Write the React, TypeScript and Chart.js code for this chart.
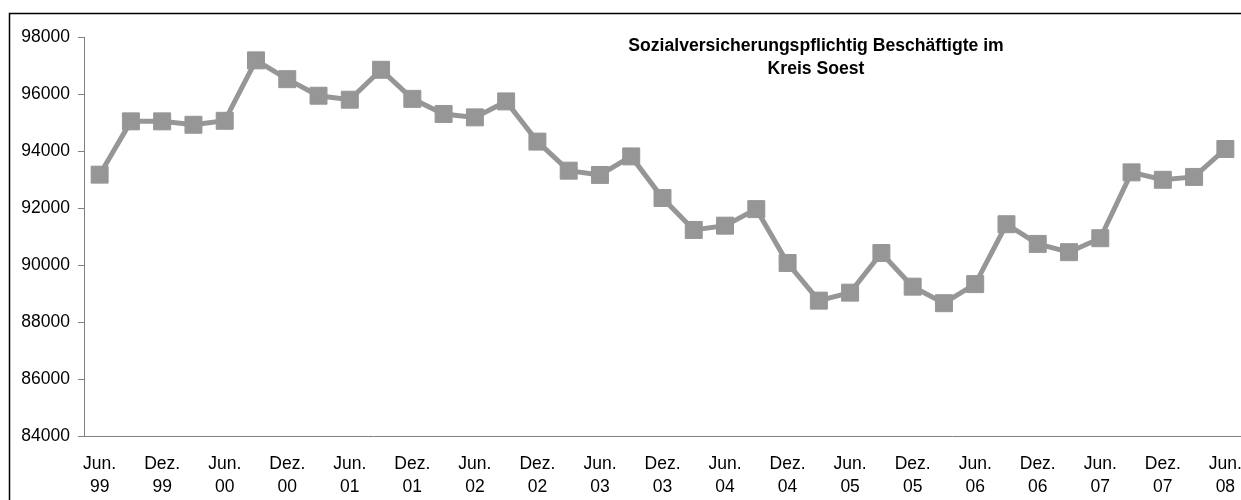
import React, { useEffect, useRef } from 'react';
import { Chart, registerables } from 'chart.js';

Chart.register(...registerables);

const quarters: string[] = [
  'Jun. 99', 'Sep. 99', 'Dez. 99', 'Mär. 00',
  'Jun. 00', 'Sep. 00', 'Dez. 00', 'Mär. 01',
  'Jun. 01', 'Sep. 01', 'Dez. 01', 'Mär. 02',
  'Jun. 02', 'Sep. 02', 'Dez. 02', 'Mär. 03',
  'Jun. 03', 'Sep. 03', 'Dez. 03', 'Mär. 04',
  'Jun. 04', 'Sep. 04', 'Dez. 04', 'Mär. 05',
  'Jun. 05', 'Sep. 05', 'Dez. 05', 'Mär. 06',
  'Jun. 06', 'Sep. 06', 'Dez. 06', 'Mär. 07',
  'Jun. 07', 'Sep. 07', 'Dez. 07', 'Mär. 08',
  'Jun. 08',
];

const employees: number[] = [
  93170, 95040, 95040, 94920,
  95060, 97180, 96520, 95940,
  95800, 96850, 95830, 95300,
  95180, 95740, 94330, 93310,
  93160, 93810, 92350, 91230,
  91380, 91960, 90070, 88750,
  89030, 90420, 89240, 88660,
  89330, 91430, 90740, 90450,
  90940, 93250, 92990, 93090,
  94070,
];

const yMin = 84000;
const yMax = 98000;
const yStep = 2000;

const titleLines: string[] = ['Sozialversicherungspflichtig Beschäftigte im', 'Kreis Soest'];

const FONT = '"Liberation Sans", Arial, sans-serif';

export default function App() {
  const ref = useRef<HTMLCanvasElement>(null);

  useEffect(() => {
    if (!ref.current) return;

    const framePlugin = {
      id: 'frame',
      beforeDraw(chart: any) {
        const ctx = chart.ctx;
        ctx.save();
        ctx.fillStyle = '#ffffff';
        ctx.fillRect(0, 0, chart.width, chart.height);
        ctx.strokeStyle = '#000000';
        ctx.lineWidth = 1.5;
        ctx.strokeRect(9.5, 13.5, 1400, 700);
        ctx.restore();
      },
    };

    const innerTitle = {
      id: 'innerTitle',
      afterDraw(chart: any) {
        const ctx = chart.ctx;
        ctx.save();
        ctx.fillStyle = '#000000';
        ctx.font = 'bold 17.6px ' + FONT;
        ctx.textAlign = 'center';
        ctx.textBaseline = 'middle';
        titleLines.forEach((line, i) => {
          ctx.fillText(line, 816, 46 + i * 23.5);
        });
        ctx.restore();
      },
    };

    const chart = new Chart(ref.current, {
      type: 'line',
      data: {
        labels: quarters,
        datasets: [
          {
            data: employees,
            borderColor: '#969696',
            backgroundColor: '#969696',
            borderWidth: 5,
            tension: 0,
            clip: false,
            pointStyle: 'rect',
            pointRadius: 12,
            pointHoverRadius: 12,
            pointBorderWidth: 1,
            pointBackgroundColor: '#969696',
            pointBorderColor: '#969696',
          },
        ],
      },
      options: {
        responsive: false,
        animation: false,
        layout: { autoPadding: false, padding: { top: 37, left: 0, right: 0, bottom: 0 } },
        plugins: {
          legend: { display: false },
          tooltip: { enabled: false },
          title: { display: false },
        },
        scales: {
          x: {
            offset: true,
            grid: { drawOnChartArea: false, drawTicks: true, tickLength: 17, tickColor: 'rgba(0,0,0,0)' },
            border: { display: true, color: '#808080', width: 1 },
            ticks: {
              autoSkip: false,
              maxRotation: 0,
              minRotation: 0,
              padding: 0,
              color: '#000000',
              font: { family: FONT, size: 17.5, lineHeight: 1.32 },
              callback: (_v: any, i: number) => (i % 2 === 0 ? quarters[i].split(' ') : ''),
            },
            afterFit(scale: any) {
              scale.height = 64;
              scale.paddingLeft = 0;
              scale.paddingRight = 0;
            },
          },
          y: {
            min: yMin,
            max: yMax,
            grid: { drawOnChartArea: false, drawTicks: true, tickLength: 6, color: '#808080' },
            border: { display: true, color: '#808080', width: 1 },
            ticks: {
              stepSize: yStep,
              padding: 8,
              color: '#000000',
              font: { family: FONT, size: 17.5 },
              callback: (v: any) => String(v),
            },
            afterFit(scale: any) {
              scale.width = 84;
            },
          },
        },
      },
      plugins: [framePlugin, innerTitle],
    });

    return () => chart.destroy();
  }, []);

  return (
    <div style={{ position: 'fixed', left: 0, top: 0, width: 1241, height: 500, background: '#fff', overflow: 'hidden' }}>
      <canvas ref={ref} width={1241} height={500} style={{ display: 'block' }} />
    </div>
  );
}
